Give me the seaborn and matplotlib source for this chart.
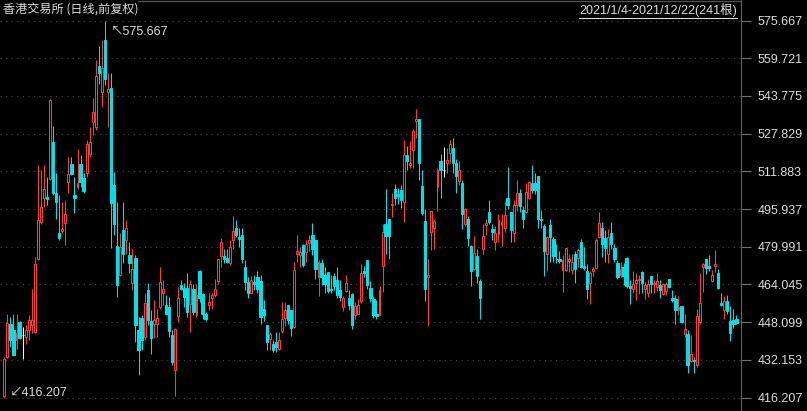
import matplotlib
matplotlib.use("Agg")
import matplotlib.pyplot as plt
import seaborn as sns
import numpy as np
from matplotlib.lines import Line2D

# daily OHLC (241 bars, 2021/1/4 - 2021/12/22)
opens = [417.0, 433.4, 447.2, 444.7, 440.5, 448.2, 442.6, 441.6, 444.7, 446.8,
         444.0, 475.0, 490.5, 500.4, 501.1, 508.8, 524.3, 502.5, 485.6, 486.7,
         490.1, 507.4, 514.8, 501.8, 505.3, 514.9, 509.1, 511.2, 519.0, 532.8,
         530.7, 556.4, 545.5, 567.6, 545.5, 547.3, 506.0, 480.2, 468.0, 487.0,
         483.0, 476.4, 464.5, 475.3, 444.7, 449.9, 441.9, 461.6, 448.5, 447.5,
         447.5, 454.6, 460.2, 455.3, 454.6, 442.6, 427.8, 450.6, 464.0, 462.6,
         462.6, 455.7, 462.3, 451.0, 469.8, 459.9, 451.7, 455.3, 458.4, 459.5,
         465.4, 476.0, 476.0, 475.3, 472.9, 483.0, 487.7, 484.2, 484.9, 471.5,
         465.2, 460.6, 465.2, 467.0, 465.4, 453.8, 446.8, 441.0, 438.8, 439.5,
         436.9, 444.3, 449.9, 455.3, 453.1, 446.1, 477.1, 476.4, 480.6, 477.8,
         481.6, 484.9, 482.8, 467.2, 472.9, 468.0, 469.1, 462.3, 467.5, 466.1,
         461.6, 454.6, 461.3, 458.5, 459.9, 450.9, 451.7, 457.0, 469.6, 474.3,
         462.7, 457.8, 451.4, 451.3, 471.9, 489.8, 491.6, 497.7, 504.6, 502.1,
         503.9, 498.7, 518.7, 514.5, 520.8, 533.1, 534.2, 505.6, 490.8, 467.3,
         486.3, 488.0, 505.3, 516.2, 512.6, 515.2, 519.8, 521.9, 515.6, 507.9,
         506.9, 489.8, 491.6, 480.5, 470.5, 476.0, 465.4, 479.2, 489.1, 494.5,
         487.5, 481.8, 485.2, 489.0, 487.7, 500.4, 494.5, 485.6, 497.6, 502.5,
         495.7, 494.6, 500.8, 507.0, 507.0, 509.8, 491.9, 488.7, 476.7, 489.0,
         483.2, 475.0, 474.6, 470.1, 470.1, 474.0, 470.1, 476.7, 475.3, 481.8,
         471.7, 469.8, 464.7, 469.8, 470.8, 484.2, 488.1, 483.5, 477.1, 485.6,
         479.6, 473.3, 468.0, 471.5, 475.4, 463.3, 462.3, 464.5, 465.8, 469.4,
         462.3, 460.5, 467.5, 464.1, 463.0, 464.0, 459.9, 461.3, 466.5, 458.1,
         457.7, 453.1, 454.8, 442.9, 442.9, 431.6, 432.0, 429.9, 448.2, 471.5,
         474.6, 471.8, 465.4, 471.9, 468.7, 456.0, 453.1, 457.0, 448.6, 448.9,
         449.6]
highs = [433.4, 451.7, 450.3, 451.7, 451.7, 448.5, 446.1, 446.8, 451.0, 462.3,
         475.7, 514.5, 512.4, 514.5, 509.5, 542.3, 531.0, 511.0, 501.8, 499.0,
         499.7, 518.0, 518.0, 509.5, 521.2, 518.7, 511.0, 525.1, 530.7, 542.7,
         558.9, 564.8, 567.4, 575.667, 553.3, 553.3, 511.7, 499.0, 485.6, 499.0,
         491.2, 482.0, 479.2, 476.4, 450.3, 451.0, 460.2, 464.5, 453.1, 457.4,
         453.8, 471.5, 465.9, 459.5, 458.8, 444.7, 445.4, 463.0, 466.1, 464.7,
         468.9, 466.1, 464.4, 464.1, 470.1, 460.2, 452.4, 460.2, 460.5, 466.5,
         475.0, 483.5, 479.2, 479.2, 482.8, 492.9, 491.2, 487.7, 487.7, 474.3,
         467.3, 467.5, 468.0, 469.8, 468.0, 457.4, 446.8, 444.0, 440.5, 444.0,
         444.0, 456.7, 456.7, 455.3, 453.1, 473.6, 484.9, 479.9, 481.3, 482.8,
         484.9, 490.1, 482.8, 474.3, 474.6, 471.5, 469.4, 468.0, 468.7, 471.5,
         465.9, 459.1, 468.0, 461.6, 460.2, 456.7, 457.7, 472.5, 471.7, 474.3,
         465.4, 459.1, 457.4, 463.3, 489.8, 504.6, 491.9, 502.8, 506.4, 505.0,
         506.3, 525.3, 522.5, 524.6, 529.6, 538.2, 534.2, 512.4, 495.9, 475.0,
         495.0, 491.5, 513.1, 519.4, 522.2, 521.8, 525.3, 525.8, 516.9, 516.2,
         508.1, 496.2, 492.9, 480.6, 484.4, 479.2, 466.5, 489.5, 491.5, 499.7,
         489.5, 488.7, 494.0, 494.0, 499.0, 513.8, 494.7, 499.7, 508.4, 504.6,
         497.1, 507.0, 507.7, 514.5, 511.0, 509.8, 495.7, 489.5, 484.4, 491.5,
         483.9, 481.3, 478.1, 476.4, 479.6, 477.1, 476.8, 478.2, 479.6, 483.2,
         479.9, 472.5, 469.8, 471.5, 483.5, 494.5, 490.5, 487.0, 487.3, 490.5,
         481.3, 474.3, 473.6, 472.9, 475.7, 465.8, 469.8, 468.7, 468.2, 469.8,
         465.1, 466.5, 467.5, 466.1, 468.7, 465.8, 464.7, 465.1, 466.5, 461.6,
         459.5, 459.1, 454.8, 451.7, 444.7, 442.6, 433.4, 453.8, 468.7, 472.9,
         474.6, 476.4, 470.1, 478.5, 470.4, 460.2, 459.1, 459.5, 454.8, 453.8,
         451.0]
lows = [416.207, 433.1, 437.6, 433.7, 436.9, 440.9, 432.7, 439.0, 440.5, 443.3,
        443.3, 474.3, 489.8, 496.9, 497.6, 508.1, 501.8, 491.9, 482.8, 485.6,
        480.7, 502.5, 510.3, 494.3, 504.6, 505.3, 502.5, 509.5, 518.0, 527.2,
        529.3, 549.0, 539.2, 548.3, 530.7, 479.6, 484.9, 458.8, 467.5, 472.9,
        477.1, 468.7, 461.6, 439.8, 425.6, 436.2, 440.5, 446.8, 434.8, 441.2,
        441.9, 453.8, 455.3, 451.0, 441.9, 429.9, 416.8, 448.2, 461.6, 454.6,
        450.3, 444.0, 451.0, 450.3, 456.7, 449.6, 448.6, 453.1, 453.8, 458.8,
        464.4, 471.5, 472.9, 472.9, 472.2, 479.2, 484.2, 479.9, 472.9, 461.6,
        458.5, 460.2, 461.6, 460.2, 447.5, 448.6, 436.2, 436.2, 435.5, 435.5,
        436.5, 443.6, 446.4, 447.2, 442.2, 445.4, 473.6, 471.2, 471.5, 473.6,
        478.2, 476.4, 466.5, 459.1, 463.7, 460.2, 460.2, 460.2, 461.6, 458.1,
        457.1, 452.9, 460.9, 453.1, 445.1, 449.6, 451.4, 456.3, 467.2, 462.3,
        456.7, 450.0, 449.3, 451.0, 460.9, 476.8, 474.7, 492.6, 497.6, 498.0,
        496.2, 490.5, 512.6, 513.4, 513.1, 526.0, 508.1, 493.3, 457.1, 446.4,
        478.5, 479.2, 495.0, 500.4, 509.5, 511.0, 515.2, 511.2, 502.9, 506.0,
        487.4, 488.7, 480.2, 463.4, 470.1, 464.8, 449.3, 476.8, 484.9, 489.5,
        483.0, 478.8, 482.0, 480.2, 486.0, 495.9, 482.0, 482.0, 495.2, 494.7,
        488.0, 494.3, 500.0, 502.5, 502.2, 487.7, 488.1, 467.5, 469.8, 473.6,
        473.6, 472.9, 473.2, 460.9, 469.8, 469.4, 468.4, 464.7, 471.2, 470.8,
        470.3, 457.7, 455.7, 467.5, 470.4, 483.5, 475.7, 473.6, 472.9, 479.2,
        473.6, 466.5, 467.2, 463.7, 462.7, 455.7, 460.2, 457.4, 459.9, 460.5,
        457.7, 458.8, 460.2, 460.5, 461.3, 458.1, 459.5, 459.5, 462.7, 456.7,
        447.2, 451.0, 447.8, 441.9, 426.6, 431.3, 426.4, 429.2, 447.5, 460.9,
        468.4, 469.8, 465.1, 469.4, 462.3, 454.8, 449.6, 451.7, 440.2, 445.4,
        447.2]
closes = [432.7, 447.8, 440.5, 434.1, 443.3, 441.2, 442.6, 444.7, 448.9, 448.9,
          472.5, 491.2, 496.9, 504.6, 500.1, 542.0, 502.5, 498.7, 483.5, 487.4,
          494.0, 510.7, 510.7, 500.8, 507.0, 507.4, 503.6, 523.4, 524.3, 536.9,
          552.1, 553.5, 555.4, 550.8, 546.6, 498.5, 489.5, 464.0, 479.9, 477.1,
          488.1, 472.9, 470.4, 446.8, 436.2, 440.5, 456.3, 448.9, 441.4, 448.9,
          450.0, 465.2, 462.3, 451.7, 444.3, 431.3, 445.0, 458.4, 461.9, 458.8,
          452.4, 464.1, 452.4, 459.5, 458.1, 451.7, 449.3, 456.7, 459.5, 462.3,
          474.6, 481.8, 475.0, 473.6, 479.9, 486.7, 484.9, 483.2, 475.0, 465.2,
          460.2, 465.8, 464.1, 462.3, 450.3, 451.0, 439.8, 443.0, 436.2, 437.6,
          440.7, 449.6, 453.1, 448.9, 445.7, 470.1, 478.1, 477.8, 472.2, 481.0,
          482.8, 479.2, 470.4, 473.6, 467.0, 464.4, 461.2, 461.6, 463.3, 459.5,
          458.8, 458.4, 464.8, 455.3, 446.8, 454.8, 455.3, 468.7, 468.9, 463.7,
          458.1, 451.0, 450.6, 461.6, 486.0, 484.4, 484.6, 498.0, 500.8, 501.5,
          499.7, 518.7, 516.2, 515.6, 529.0, 534.2, 515.5, 494.3, 462.2, 468.0,
          495.0, 490.8, 512.4, 512.4, 512.6, 516.6, 523.6, 515.5, 510.0, 512.4,
          493.9, 495.9, 483.7, 469.8, 477.5, 467.7, 458.4, 484.4, 490.1, 490.5,
          486.3, 485.6, 491.2, 490.5, 493.6, 497.8, 487.0, 497.6, 502.5, 497.1,
          491.6, 503.2, 507.4, 503.9, 503.9, 491.9, 491.2, 478.2, 483.9, 483.9,
          476.0, 474.6, 473.9, 474.3, 479.6, 475.0, 473.6, 470.4, 478.5, 471.5,
          470.8, 462.2, 468.7, 470.4, 482.8, 490.1, 481.3, 479.6, 483.9, 481.3,
          474.6, 467.2, 470.4, 467.7, 463.3, 462.7, 464.1, 465.8, 466.5, 464.7,
          463.7, 464.4, 464.4, 464.7, 465.4, 461.6, 464.4, 464.1, 463.0, 457.4,
          453.1, 454.6, 448.2, 445.0, 429.9, 434.8, 431.6, 450.6, 456.0, 472.6,
          470.8, 471.1, 468.0, 472.6, 462.7, 455.3, 457.0, 452.7, 443.6, 447.5,
          447.8]

price_ticks = [416.207, 432.153, 448.099, 464.045, 479.991, 495.937,
               511.883, 527.829, 543.775, 559.721, 575.667]
title = "香港交易所 (日线,前复权)"
span_text = "2021/1/4-2021/12/22(241根)"

UP = "#ff3c3c"
DOWN = "#00e0e6"
DOJI = "#f0f0f0"
TEXT = "#dcdcdc"
GRID = "#4a4a4a"

sns.set_theme(style="dark", rc={"axes.facecolor": "black", "figure.facecolor": "black",
                                "savefig.facecolor": "black"})
plt.rcParams["font.family"] = ["Liberation Sans", "Noto Sans CJK SC", "DejaVu Sans"]

W, H = 807, 411
fig = plt.figure(figsize=(W / 100, H / 100), dpi=100)
ax = fig.add_axes([0, 0, 741 / W, 1])

o = np.array(opens)
h = np.array(highs)
l = np.array(lows)
c = np.array(closes)
x = np.arange(len(c))
up = c > o
dn = c < o
eq = c == o

colors = np.where(up, UP, np.where(dn, DOWN, DOJI))
ax.vlines(x, l, h, colors=colors, linewidth=0.75, zorder=2)
ax.bar(x[up], c[up] - o[up], bottom=o[up], width=0.62, facecolor="black",
       edgecolor=UP, linewidth=0.75, zorder=3)
ax.bar(x[dn], o[dn] - c[dn], bottom=c[dn], width=0.75, facecolor=DOWN,
       edgecolor=DOWN, linewidth=0.75, zorder=3)
ax.hlines(c[eq], x[eq] - 0.35, x[eq] + 0.35, colors=DOJI, linewidth=0.75, zorder=3)

ax.set_xlim(-1.41, 241.5)
ax.set_ylim(410.50, 584.34)
ax.set_xticks([])
ax.yaxis.tick_right()
ax.set_yticks(price_ticks)
ax.set_yticklabels([f"{v:.3f}" for v in price_ticks])
ax.tick_params(axis="y", direction="out", length=7, width=0.8, color="#707070",
               labelcolor=TEXT, labelsize=9, pad=5, right=True)
ax.grid(axis="y", color=GRID, linestyle=(0, (1, 4)), linewidth=0.8)
ax.grid(axis="x", visible=False)
for side in ["top", "left", "bottom"]:
    ax.spines[side].set_visible(False)
ax.spines["right"].set_color("#606060")
ax.spines["right"].set_linewidth(0.8)

# max / min markers
imax = int(np.argmax(h))
imin = int(np.argmin(l))
ax.annotate(f"↖{h[imax]:.3f}", xy=(imax, h[imax]), xytext=(6, -11),
            textcoords="offset pixels", ha="left", va="center", fontsize=9, color=TEXT)
ax.annotate(f"↙{l[imin]:.3f}", xy=(imin, l[imin]), xytext=(6, 5),
            textcoords="offset pixels", ha="left", va="center", fontsize=9, color=TEXT)

# header texts
fig.text(3 / W, 1 - 10 / H, title, ha="left", va="center", fontsize=8.7, color=TEXT,
         family=["Noto Sans CJK SC", "DejaVu Sans"])
t = fig.text(737 / W, 1 - 10 / H, span_text, ha="right", va="center", fontsize=9, color=TEXT)
fig.canvas.draw()
bb = t.get_window_extent()
fig.add_artist(Line2D([bb.x0 / W, bb.x1 / W], [1 - 18 / H, 1 - 18 / H],
                      transform=fig.transFigure, color=TEXT, linewidth=0.8))
fig.add_artist(Line2D([138 / W, 741 / W], [1 - 0.8 / H, 1 - 0.8 / H],
                      transform=fig.transFigure, color="#505050", linewidth=1))

fig.savefig("out.png", dpi=100, facecolor="black")
